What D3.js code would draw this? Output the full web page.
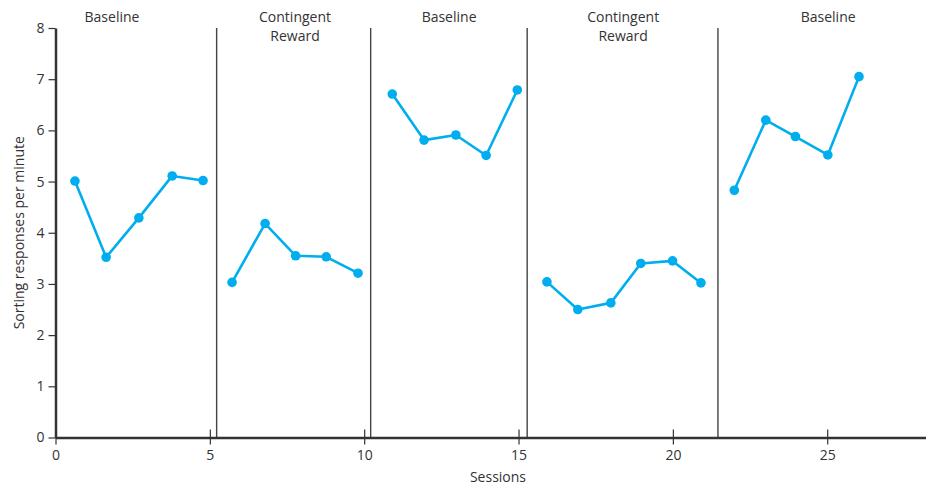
<!DOCTYPE html>
<html><head><meta charset="utf-8">
<script src="https://cdn.jsdelivr.net/npm/d3@7"></script>
<style>
html,body{margin:0;padding:0;background:#fff;}
text{font-family:"Open Sans","Noto Sans",sans-serif;fill:#333;}
</style></head>
<body><svg id="c" width="926" height="487"></svg>
<script>
// Data
const phaseNames = [["Baseline"],["Contingent","Reward"],["Baseline"],["Contingent","Reward"],["Baseline"]];
const phaseLabelX = [1.83, 7.76, 12.75, 18.39, 25.03];
const phaseLines = [5.22, 10.21, 15.28, 21.46];
const p1x = [0.63, 1.64, 2.70, 3.78, 4.78];
const p1y = [5.01, 3.52, 4.29, 5.11, 5.02];
const p2x = [5.72, 6.79, 7.78, 8.77, 9.80];
const p2y = [3.03, 4.18, 3.55, 3.53, 3.21];
const p3x = [10.91, 11.94, 12.97, 13.95, 14.96];
const p3y = [6.71, 5.81, 5.91, 5.51, 6.79];
const p4x = [15.92, 16.92, 17.99, 18.96, 19.99, 20.91];
const p4y = [3.04, 2.50, 2.63, 3.40, 3.45, 3.02];
const p5x = [21.99, 23.01, 23.97, 25.02, 26.03];
const p5y = [4.83, 6.20, 5.88, 5.52, 7.05];
const xTicks = [0, 5, 10, 15, 20, 25];
const yTicks = [0, 1, 2, 3, 4, 5, 6, 7, 8];

const svg = d3.select("#c");
const mLeft = 55.5, mBottom = 437.5, mTop = 28;
const x = d3.scaleLinear().domain([0, 28.2]).range([mLeft, 926]);
const y = d3.scaleLinear().domain([0, 8]).range([mBottom, mTop]);
const blue = "#00AEEF", dark = "#333";
const ff = '"Open Sans","Noto Sans",sans-serif';

// phase lines
svg.selectAll("line.phase").data(phaseLines).enter().append("line")
  .attr("x1", d => x(d)).attr("x2", d => x(d))
  .attr("y1", y(8)).attr("y2", mBottom)
  .attr("stroke", "#444").attr("stroke-width", 1.4);

// y axis
const ya = svg.append("g").attr("transform", `translate(${mLeft},0)`)
  .call(d3.axisLeft(y).tickValues(yTicks).tickSize(7).tickPadding(4).tickSizeOuter(0));
ya.select(".domain").attr("stroke", dark).attr("stroke-width", 2.5);
ya.selectAll(".tick line").attr("stroke", dark).attr("stroke-width", 1.2);
ya.selectAll(".tick text").attr("font-size", 14).attr("fill", dark)
  .style("font-family", ff);

// x axis
const xa = svg.append("g").attr("transform", `translate(0,${mBottom})`)
  .call(d3.axisBottom(x).tickValues(xTicks).tickSize(7).tickPadding(6).tickSizeOuter(0));
xa.select(".domain").attr("stroke", dark).attr("stroke-width", 2.5);
xa.selectAll(".tick line").attr("stroke", dark).attr("stroke-width", 1.2).attr("y1", -8);
xa.selectAll(".tick text").attr("font-size", 14).attr("fill", dark)
  .style("font-family", ff);

// series
const phases = [[p1x,p1y],[p2x,p2y],[p3x,p3y],[p4x,p4y],[p5x,p5y]];
const line = d3.line().x(d => x(d[0])).y(d => y(d[1]));
phases.forEach(([xs, ys]) => {
  const pts = xs.map((v, i) => [v, ys[i]]);
  svg.append("path").datum(pts).attr("d", line)
    .attr("fill", "none").attr("stroke", blue).attr("stroke-width", 2.6)
    .attr("stroke-linejoin", "round");
  svg.selectAll(null).data(pts).enter().append("circle")
    .attr("cx", d => x(d[0])).attr("cy", d => y(d[1])).attr("r", 4.8)
    .attr("fill", blue);
});

// phase labels
phaseNames.forEach((lines, i) => {
  const t = svg.append("text").attr("x", x(phaseLabelX[i])).attr("y", 22)
    .attr("text-anchor", "middle").attr("font-size", 14);
  lines.forEach((s, j) => t.append("tspan").attr("x", x(phaseLabelX[i])).attr("dy", j ? 19 : 0).text(s));
});

// axis titles
svg.append("text").attr("x", 498).attr("y", 482).attr("text-anchor", "middle")
  .attr("font-size", 14).text("Sessions");
svg.append("text").attr("transform", `translate(24,${(mTop+mBottom)/2}) rotate(-90)`)
  .attr("text-anchor", "middle").attr("font-size", 14).text("Sorting responses per minute");
</script></body></html>
